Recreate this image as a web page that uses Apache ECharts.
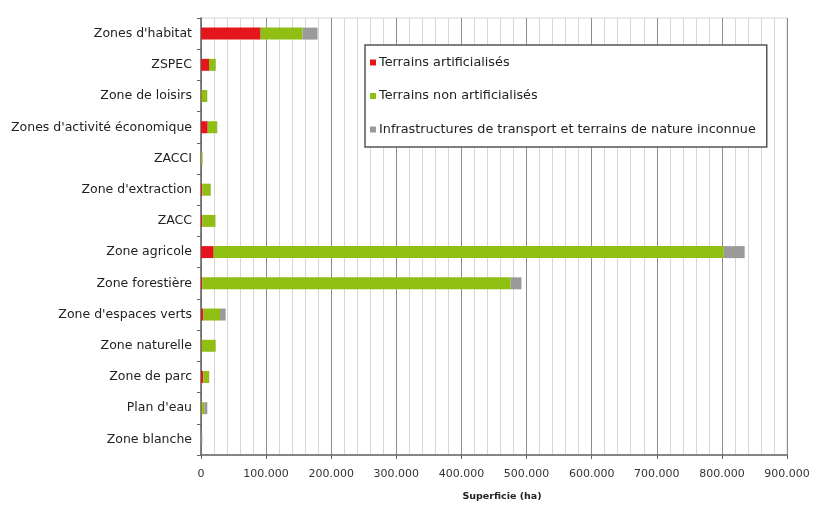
<!DOCTYPE html>
<html>
<head>
<meta charset="utf-8">
<script src="https://cdn.jsdelivr.net/npm/echarts@6/dist/echarts.min.js"></script>
<style>html,body{margin:0;padding:0;background:#fff;}#c{width:813px;height:507px;}</style>
</head>
<body>
<div id="c"></div>
<script>
const categories = ["Zones d'habitat","ZSPEC","Zone de loisirs","Zones d'activité économique","ZACCI","Zone d'extraction","ZACC","Zone agricole","Zone forestière","Zone d'espaces verts","Zone naturelle","Zone de parc","Plan d'eau","Zone blanche"];
const seriesNames = ["Terrains artificialisés","Terrains non artificialisés","Infrastructures de transport et terrains de nature inconnue"];
const artificialises = [91600, 12300, 800, 10300, 300, 2000, 2000, 19500, 2000, 3500, 1000, 3500, 800, 300];
const nonArtificialises = [64400, 10200, 8500, 14200, 2000, 12900, 20000, 783500, 473700, 25700, 21500, 8800, 4200, 500];
const infrastructures = [23000, 500, 400, 500, 300, 300, 300, 32000, 16500, 8700, 300, 300, 4700, 1200];
const xTicks = {min: 0, max: 900000, interval: 100000};

const colors = ['#e3161c', '#8fbf12', '#9a9a9a'];
const font = 'DejaVu Sans';
const fmt = v => v === 0 ? '0' : String(v).replace(/\B(?=(\d{3})+(?!\d))/g, '.');

const chart = echarts.init(document.getElementById('c'));
const mk = (name, data, i) => ({
  name: name, type: 'bar', stack: 'total', data: data, barWidth: 12,
  itemStyle: {color: colors[i]}, emphasis: {disabled: true}
});
chart.setOption({
  animation: false,
  textStyle: {fontFamily: font},
  grid: {left: 201, right: 26, top: 18, bottom: 50, show: true, borderColor: '#d4d4d4', borderWidth: 1},
  legend: {
    orient: 'vertical', left: 365, top: 45,
    data: seriesNames,
    icon: 'rect', itemWidth: 6, itemHeight: 6, itemGap: 20.5,
    padding: [11, 11, 11, 5],
    backgroundColor: '#fff', borderColor: '#555', borderWidth: 1.5,
    textStyle: {fontFamily: font, fontSize: 12.8, color: '#222', padding: [0, 0, 0, -2]}
  },
  xAxis: {
    type: 'value', min: xTicks.min, max: xTicks.max, interval: xTicks.interval,
    name: 'Superficie (ha)', nameLocation: 'middle', nameGap: 37,
    nameTextStyle: {fontFamily: font, fontSize: 9.5, fontWeight: 'bold', color: '#222', padding: [0, 0, 0, 16]},
    axisLine: {show: true, lineStyle: {color: '#666', width: 1.5}},
    axisTick: {show: true, length: 4, lineStyle: {color: '#666'}},
    minorTick: {show: false, splitNumber: 5},
    axisLabel: {fontFamily: font, fontSize: 11, color: '#333', margin: 14, formatter: fmt},
    splitLine: {show: true, lineStyle: {color: '#8c8c8c', width: 1}},
    minorSplitLine: {show: true, lineStyle: {color: '#d6d6d6', width: 1}}
  },
  yAxis: {
    type: 'category', data: categories, inverse: true,
    axisLine: {show: true, lineStyle: {color: '#666', width: 1.5}},
    axisTick: {show: true, length: 4, lineStyle: {color: '#666'}},
    axisLabel: {fontFamily: font, fontSize: 12.5, color: '#222', margin: 9},
    splitLine: {show: false}
  },
  series: [
    mk(seriesNames[0], artificialises, 0),
    mk(seriesNames[1], nonArtificialises, 1),
    mk(seriesNames[2], infrastructures, 2)
  ]
});
</script>
</body>
</html>
